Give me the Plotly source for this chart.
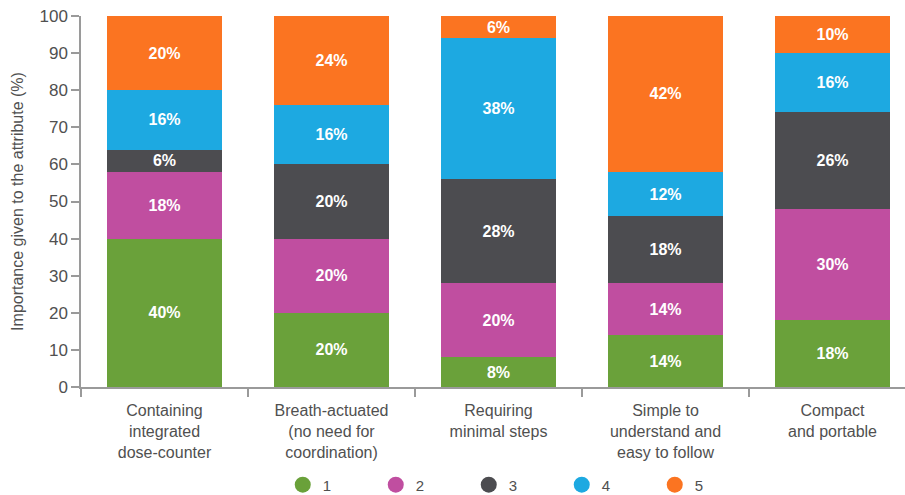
import plotly.graph_objects as go

# Attributes rated and the share of respondents giving each importance score
categories = [
    "Containing<br>integrated<br>dose-counter",
    "Breath-actuated<br>(no need for<br>coordination)",
    "Requiring<br>minimal steps",
    "Simple to<br>understand and<br>easy to follow",
    "Compact<br>and portable",
]
score_names = ["1", "2", "3", "4", "5"]
score_1 = [40, 20, 8, 14, 18]
score_2 = [18, 20, 20, 14, 30]
score_3 = [6, 20, 28, 18, 26]
score_4 = [16, 16, 38, 12, 16]
score_5 = [20, 24, 6, 42, 10]
series = [score_1, score_2, score_3, score_4, score_5]
colors = ["#6aa13a", "#c04ea0", "#4c4c50", "#1da9e1", "#fb7421"]

FONT = "Liberation Sans, Arial, sans-serif"

fig = go.Figure()
for name, vals, col in zip(score_names, series, colors):
    fig.add_trace(go.Bar(
        x=categories, y=vals, name=name,
        marker=dict(color=col, line=dict(width=0)),
        width=0.69,
        text=[f"{v}%" for v in vals],
        textposition="inside", insidetextanchor="middle",
        constraintext="none",
        textfont=dict(color="white", size=16, family=FONT, weight="bold"),
        showlegend=False,
    ))
    # circular legend key for each score
    fig.add_trace(go.Scatter(
        x=[None], y=[None], mode="markers", name=name,
        marker=dict(color=col, size=16, symbol="circle"),
        showlegend=True,
    ))

fig.update_layout(
    barmode="stack",
    width=905, height=495,
    margin=dict(l=81, r=0, t=16, b=108, autoexpand=False),
    paper_bgcolor="white", plot_bgcolor="white",
    font=dict(family=FONT, color="#505050", size=15),
    legend=dict(
        orientation="h", x=0.527, xanchor="center", y=-0.264, yanchor="middle",
        entrywidth=48, entrywidthmode="pixels", traceorder="normal",
        font=dict(size=15, color="#505050"),
        itemsizing="trace",
    ),
    xaxis=dict(
        type="category", range=[-0.5, 4.434], automargin=False,
        showline=True, linecolor="#9a9a9a", linewidth=1.5,
        ticks="outside", ticklen=8, tickcolor="#9a9a9a", tickwidth=1.5,
        tickson="boundaries", showgrid=False, ticklabelstandoff=8,
        tickfont=dict(size=16, color="#505050"),
    ),
    yaxis=dict(
        range=[0, 100], tickvals=list(range(0, 101, 10)), automargin=False,
        showline=True, linecolor="#9a9a9a", linewidth=1.5,
        ticks="outside", ticklen=8, tickcolor="#9a9a9a", tickwidth=1.5,
        showgrid=False, zeroline=False,
        tickfont=dict(size=17, color="#505050"),
        title=dict(text="Importance given to the attribute (%)",
                   font=dict(size=16, color="#505050"), standoff=12),
    ),
)

fig.write_html("out.html")
